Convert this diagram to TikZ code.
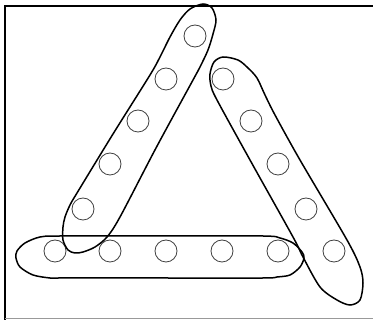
\documentclass[tikz,border=0pt]{standalone}
\begin{document}
\begin{tikzpicture}[x=1pt,y=-1pt,
  dot/.style={circle,draw=black!75,line width=0.8pt,minimum size=22pt,inner sep=0pt},
  hull/.style={draw=black,line width=1.5pt}]
\useasboundingbox (0,0) rectangle (373,320);
% frame
\draw[line width=2pt] (5,320) -- (5,6) -- (373,6);
\draw[black!40,line width=1pt] (5,319) -- (373,319);
% circles
\node[dot] (b1) at (55,251) {};
\node[dot] (b2) at (110,251) {};
\node[dot] (b3) at (166,251) {};
\node[dot] (b4) at (222,251) {};
\node[dot] (b5) at (278,251) {};
\node[dot] (b6) at (334,251) {};
\node[dot] (l1) at (83,209) {};
\node[dot] (l2) at (110,164) {};
\node[dot] (l3) at (138,121) {};
\node[dot] (l4) at (166,79) {};
\node[dot] (l5) at (195,36) {};
\node[dot] (r1) at (223,79) {};
\node[dot] (r2) at (251,121) {};
\node[dot] (r3) at (278,164) {};
\node[dot] (r4) at (306,209) {};
% horizontal hull
\draw[hull] plot[smooth cycle,tension=0.5] coordinates {
  (60,236) (160,236) (263,236) (280,238) (293,243) (302,252) (304,258)
  (300,267) (290,275) (277,277) (263,278) (160,278) (60,278) (50,278)
  (33,275) (20,267) (16,258) (17,251) (25,243) (40,237)};
% left hull
\draw[hull] plot[smooth cycle,tension=0.5] coordinates {
  (203,4) (212,8) (216,20) (213,34) (208,50) (200,67) (193,80) (156,148)
  (120,217) (107,237) (95,247) (83,252) (75,253) (68,250) (63,240)
  (63,227) (65,217) (70,205) (77,193) (113,134) (150,75) (160,57)
  (170,37) (180,20) (190,9)};
% right hull
\draw[hull] plot[smooth cycle,tension=0.5] coordinates {
  (223,57) (238,60) (248,68) (257,78) (265,95) (275,115) (300,160)
  (347,240) (360,267) (363,283) (360,300) (350,305) (337,300) (320,287)
  (303,257) (293,237) (250,160) (217,100) (211,86) (210,74) (214,62)};
\end{tikzpicture}
\end{document}
